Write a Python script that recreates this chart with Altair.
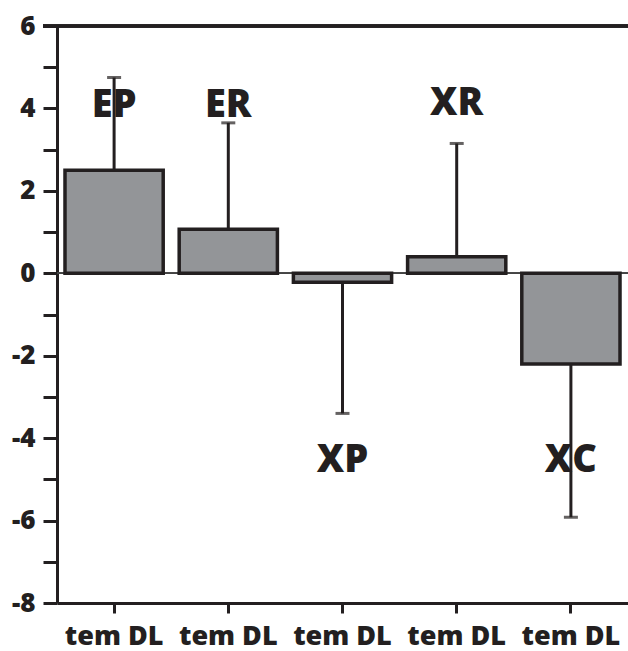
import altair as alt
import pandas as pd

categories = ["EP", "ER", "XP", "XR", "XC"]
means = [2.5, 1.07, -0.22, 0.4, -2.2]
err_end = [4.75, 3.65, -3.4, 3.15, -5.92]
label_y = [4.05, 4.05, -4.55, 4.1, -4.55]
y_ticks = list(range(-8, 7))

df = pd.DataFrame({"cat": categories, "mean": means, "err": err_end, "ly": label_y})

INK = "#231f20"
FONT = "Open Sans"

xscale = alt.Scale(domain=categories, paddingInner=0.14, paddingOuter=0.07)
yscale = alt.Scale(domain=[-8, 6], nice=False, zero=False)

x_enc = alt.X("cat:N", scale=xscale, sort=categories, title=None,
              axis=alt.Axis(labelExpr="'tem DL'", labelAngle=0, labelAlign="center",
                            labelBaseline="top", labelFont=FONT,
                            labelFontWeight=800, labelFontSize=27, labelColor=INK,
                            tickSize=10, tickWidth=3, tickColor=INK, domainWidth=3,
                            domainColor=INK, labelPadding=10, ticks=True, labelFlush=False))
y_enc = alt.Y("mean:Q", scale=yscale, title=None,
              axis=alt.Axis(values=y_ticks,
                            labelExpr="datum.value % 2 == 0 ? toString(datum.value) : ''",
                            labelFont=FONT, labelFontWeight=800, labelFontSize=26,
                            labelColor=INK, tickSize=14, tickWidth=3, tickColor=INK,
                            domainWidth=3, domainColor=INK, labelPadding=8, grid=False))

base = alt.Chart(df)

top_line = base.mark_rule(color=INK, strokeWidth=3).encode(
    y=alt.datum(6, scale=yscale), x=alt.value(-14), x2=alt.value(571))
zero_line = base.mark_rule(color="#444444", strokeWidth=1.5).encode(
    y=alt.datum(0, scale=yscale), x=alt.value(0), x2=alt.value(571))

labels = base.mark_text(font=FONT, fontWeight=800, fontSize=38, color=INK,
                        baseline="middle", align="center").encode(
    x=alt.X("cat:N", scale=xscale, sort=categories),
    y=alt.Y("ly:Q", scale=yscale), text="cat:N")

err_rule = base.mark_rule(color=INK, strokeWidth=3).encode(
    x=alt.X("cat:N", scale=xscale, sort=categories),
    y=alt.Y("mean:Q", scale=yscale), y2="err:Q")

bars = base.mark_bar(color="#939598", stroke=INK, strokeWidth=3.5).encode(
    x=x_enc, y=y_enc)

caps = base.mark_tick(color=INK, size=14, thickness=3).encode(
    x=alt.X("cat:N", scale=xscale, sort=categories),
    y=alt.Y("err:Q", scale=yscale))

chart = alt.layer(zero_line, labels, err_rule, bars, caps, top_line).properties(
    width=571, height=577,
    autosize=alt.AutoSizeParams(type="none"),
    padding={"left": 57, "top": 26, "right": 0, "bottom": 48},
    background="white",
).configure_view(stroke=None)

chart.save("out.html", embed_options={"renderer": "svg", "actions": False})
